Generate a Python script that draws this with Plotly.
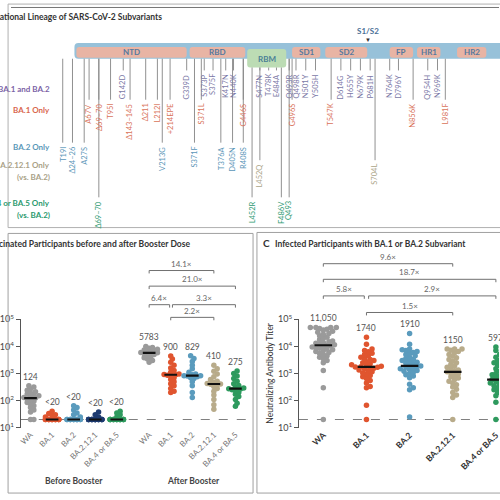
import numpy as np
import plotly.graph_objects as go

# ---------------- data ----------------
row_names = ["BA.1 and BA.2", "BA.1 Only", "BA.2 Only", "BA.2.12.1 Only", "BA.4 or BA.5 Only"]
row_subs = ["", "", "", "(vs. BA.2)", "(vs. BA.2)"]
domain_names = ["NTD", "RBD", "RBM", "SD1", "SD2", "FP", "HR1", "HR2"]

mut_shared = ["G142D", "G339D", "S373P", "S375F", "K417N", "N440K", "S477N", "T478K", "E484A",
              "Q493R", "Q498R", "N501Y", "Y505H", "D614G", "H655Y", "N679K", "P681H", "N764K",
              "D796Y", "Q954H", "N969K"]
mut_ba1 = ["A67V", "Δ69–70", "T95I", "Δ143–145", "Δ211", "L212I", "+214EPE", "S371L", "G446S",
           "G496S", "T547K", "N856K", "L981F"]
mut_ba2 = ["T19I", "Δ24–26", "A27S", "V213G", "S371F", "T376A", "D405N", "R408S"]
mut_ba2121 = ["L452Q", "S704L"]
mut_ba45 = ["Δ69–70", "L452R", "F486V", "Q493"]

variants = ["WA", "BA.1", "BA.2", "BA.2.12.1", "BA.4 or BA.5"]

# Panel B: vaccinated, before / after booster
b_before = [
    [20, 20, 38, 45, 55, 65, 75, 85, 95, 105, 115, 124, 130, 140, 150, 160, 175, 190, 210, 240, 270, 320, 350],
    [20] * 14 + [25, 28, 30, 33, 40],
    [20] * 13 + [25, 30, 35, 45, 55, 65],
    [20] * 16 + [25, 30, 38],
    [20] * 15 + [25, 30, 35, 40],
]
b_after = [
    [2600, 3000, 3400, 3800, 4200, 4600, 5000, 5300, 5600, 5783, 6000, 6300, 6600, 7000, 7400, 7900, 8500, 9200, 10000],
    [200, 220, 280, 350, 420, 500, 600, 700, 800, 870, 900, 920, 950, 1000, 1100, 1300, 1600, 2000, 2600, 3400, 4400],
    [130, 200, 350, 500, 650, 700, 760, 800, 820, 829, 850, 900, 950, 1100, 1500, 2000, 2800, 3600, 4500],
    [48, 70, 110, 160, 220, 280, 330, 380, 400, 410, 430, 470, 520, 600, 750, 950, 1200, 1500, 2000],
    [62, 80, 110, 140, 170, 200, 230, 250, 265, 275, 290, 320, 360, 420, 520, 650, 800, 1000, 1240],
]
b_gmt_before = [124, 20, 20, 20, 20]
b_gmt_after = [5783, 900, 829, 410, 275]
b_lab_before = ["124", "<20", "<20", "<20", "<20"]
b_lab_after = ["5783", "900", "829", "410", "275"]
b_folds = ["14.1×", "21.0×", "6.4×", "3.3×", "2.2×"]

# Panel C: infected with BA.1 or BA.2
c_vals = [
    [20, 300, 1300, 2500, 3000, 3500, 4000, 4500, 5000, 5500, 6000, 6500, 7000, 7500, 8000, 8500, 9000,
     9500, 10000, 10500, 11050, 11500, 12000, 13000, 14000, 15000, 16000, 18000, 20000, 22000, 25000,
     28000, 30000, 33000, 36000, 40000, 43000, 46000, 50000, 50000, 50000, 50000],
    [20, 67, 300, 330, 450, 550, 650, 750, 850, 950, 1050, 1150, 1250, 1350, 1450, 1550, 1650, 1700, 1740,
     1780, 1850, 1950, 2100, 2300, 2500, 2700, 3000, 3300, 3600, 4000, 4500, 5000, 5600, 6300, 7000, 8000,
     12000, 22000],
    [25, 250, 300, 400, 700, 800, 900, 1000, 1100, 1200, 1300, 1400, 1500, 1600, 1700, 1800, 1900, 2000,
     2200, 2400, 2600, 2800, 3000, 3300, 3600, 4000, 4500, 5000, 5500, 6000, 6500, 7000, 7500, 8000,
     12000, 30000],
    [20, 130, 160, 200, 260, 320, 380, 450, 520, 600, 680, 760, 850, 950, 1050, 1150, 1250, 1350, 1500,
     1700, 1900, 2200, 2500, 2900, 3300, 3800, 4400, 5000, 5800, 6500, 7200, 8000, 8000, 8000],
    [20, 87, 150, 200, 250, 300, 350, 400, 450, 500, 550, 600, 650, 700, 800, 900, 1000, 1200, 1500,
     2000, 2500, 3000, 4000, 5000, 7000, 9600],
]
c_gmt = [11050, 1740, 1910, 1150, 597]
c_lab = ["11,050", "1740", "1910", "1150", "597"]
c_folds = ["9.6×", "18.7×", "5.8×", "2.9×", "1.5×"]

# ---------------- layout helpers ----------------
W = H = 500
FONT = "Lato"
def X(px): return px / W
def Y(py): return 1 - py / H

row_colors = ["#7b62a6", "#d9664d", "#5a98b8", "#a9a187", "#2b9a6e"]
mut_text_colors = ["#7a78a6", "#d9735a", "#5b96b8", "#aaa488", "#2e9a72"]
var_colors = ["#9a9a9a", "#e0552f", "#5a9bbd", "#b8ab8a", "#2e9a5e"]
before_colors = ["#9a9a9a", "#e0552f", "#5a9bbd", "#1d3a70", "#2e9a5e"]

shapes = []
ann = []

def line_px(x0, y0, x1, y1, color="#8a8a8a", w=1, dash=None):
    d = dict(type="line", xref="paper", yref="paper", x0=X(x0), y0=Y(y0), x1=X(x1), y1=Y(y1),
             line=dict(color=color, width=w))
    if dash:
        d["line"]["dash"] = dash
    shapes.append(d)

def rrect(x0, y0, x1, y1, fill, r=2.5, line=None):
    a0, b0, a1, b1 = X(x0), Y(y0), X(x1), Y(y1)
    rx, ry = r / W, r / H
    p = (f"M{a0+rx},{b0} L{a1-rx},{b0} Q{a1},{b0} {a1},{b0-ry} L{a1},{b1+ry} Q{a1},{b1} {a1-rx},{b1} "
         f"L{a0+rx},{b1} Q{a0},{b1} {a0},{b1+ry} L{a0},{b0-ry} Q{a0},{b0} {a0+rx},{b0} Z")
    shapes.append(dict(type="path", xref="paper", yref="paper", path=p, fillcolor=fill,
                       line=dict(width=0 if line is None else 1, color=line or fill)))

def text_px(x, y, t, size=8, color="#333", xa="center", ya="middle", angle=0, bold=False):
    if bold:
        t = "<b>" + t + "</b>"
    ann.append(dict(x=X(x), y=Y(y), xref="paper", yref="paper", text=t, showarrow=False,
                    xanchor=xa, yanchor=ya, textangle=angle,
                    font=dict(family=FONT, size=size, color=color)))

# ---------------- panel frames ----------------
line_px(0, 0.5, 500, 0.5, "#777")
shapes.append(dict(type="rect", xref="paper", yref="paper", x0=X(-3), x1=X(503), y0=Y(226), y1=Y(-3),
                   line=dict(color="#b0b0b0", width=1)))
shapes.append(dict(type="rect", xref="paper", yref="paper", x0=X(-3), x1=X(248), y0=Y(498), y1=Y(232),
                   line=dict(color="#a0a0a0", width=1)))
shapes.append(dict(type="rect", xref="paper", yref="paper", x0=X(252), x1=X(503), y0=Y(498), y1=Y(231),
                   line=dict(color="#a0a0a0", width=1)))

# ---------------- panel A ----------------
text_px(157, 10, "A  Mutational Lineage of SARS-CoV-2 Subvariants", 8.5, "#333", xa="right", bold=True)

rrect(65, 37, 506, 53, "#97c1d9", r=4)
dom_px = [(67, 180), (183, 240), (242, 282), (288, 317), (322, 365), (388, 412), (416, 440), (457, 487)]
for name, (a, b) in zip(domain_names, dom_px):
    if name == "RBM":
        rrect(a, 43, b, 62, "#bcdcb4", r=3)
        text_px((a + b) / 2, 53, name, 8, "#4a7f96", bold=True)
    else:
        rrect(a, 41, b, 52, "#e8b4a4", r=3)
        text_px((a + b) / 2, 46.5, name, 8, "#56789e", bold=True)
text_px(366, 25, "S1/S2", 8, "#4a6f96", bold=True)
text_px(366, 33, "▼", 6, "#333")

row_y = [84, 106, 143, 162, 201]
for i, (nm, sub) in enumerate(zip(row_names, row_subs)):
    text_px(42, row_y[i], nm, 8, row_colors[i], xa="right", bold=True)
    if sub:
        text_px(42, row_y[i] + 12, sub, 8, row_colors[i], xa="right", bold=True)

pos_shared = [115, 180, 198, 207, 220, 228, 255, 264, 272, 285, 292, 302, 312, 338, 348, 358, 368, 388, 397, 427, 437]
pos_ba1 = [80, 90, 102, 122, 138, 150, 163, 195, 238, 288, 328, 412, 445]
pos_ba2 = [53, 63, 75, 155, 188, 215, 227, 238]
pos_ba2121 = [255, 373]
pos_ba45 = [90, 247, 277, 285]
row_top = [67, 97, 141, 159, 197]

for r, (names, poss) in enumerate(zip([mut_shared, mut_ba1, mut_ba2, mut_ba2121, mut_ba45],
                                      [pos_shared, pos_ba1, pos_ba2, pos_ba2121, pos_ba45])):
    for nm, px in zip(names, poss):
        ybar = 62 if 242 <= px <= 282 else 53
        line_px(px, ybar, px, row_top[r] - 2, "#858585", 0.9)
        text_px(px, row_top[r], nm, 7.5, mut_text_colors[r], ya="top", angle=-90)

# ---------------- panel B & C ----------------
text_px(185, 243, "B  Vaccinated Participants before and after Booster Dose", 8.5, "#333", xa="right", bold=True)
text_px(256, 242, "C", 10, "#333", xa="left", bold=True)
text_px(268, 243, "Infected Participants with BA.1 or BA.2 Subvariant", 8.5, "#333", xa="left", bold=True)

B_X0, B_X1, C_X0 = 10, 245, 295
Y_TOP, Y_BOT = 320, 431
PPD = (Y_BOT - Y_TOP) / 4.0
B_PPU = 22.1
C_PPU = 44.2
b_range = [-(20 - B_X0) / B_PPU, (B_X1 - 20) / B_PPU]
c_range = [-(320 - C_X0) / C_PPU, (500 - 320) / C_PPU]

def swarm(vals, ppu, d, maxw):
    ys = np.log10(np.array(vals, float)) * PPD
    order = np.argsort(ys)
    placed = []
    xs = np.zeros(len(vals))
    for i in order:
        y = ys[i]
        best, bestc = 0.0, 1e9
        for k in range(0, 60):
            off = ((k + 1) // 2) * (1 if k % 2 else -1) * d * 0.5
            if abs(off) > maxw:
                break
            c = sum(1 for px, py in placed if (off - px) ** 2 + (y - py) ** 2 < d ** 2)
            if c == 0:
                best, bestc = off, 0
                break
            if c < bestc:
                best, bestc = off, c
        placed.append((best, y))
        xs[i] = best / ppu
    return xs

fig = go.Figure()
b_pos = [0, 1, 2, 3, 4, 5.5, 6.5, 7.5, 8.5, 9.5]
b_groups = b_before + b_after
b_cols = before_colors + var_colors
b_gmts = b_gmt_before + b_gmt_after
b_labs = b_lab_before + b_lab_after

fig.add_trace(go.Scatter(x=b_range, y=[20, 20], mode="lines", xaxis="x", yaxis="y",
                         line=dict(color="#808080", width=1, dash="dash"), hoverinfo="skip", showlegend=False))
fig.add_trace(go.Scatter(x=c_range, y=[20, 20], mode="lines", xaxis="x2", yaxis="y2",
                         line=dict(color="#808080", width=1, dash="dash"), hoverinfo="skip", showlegend=False))

for p, vals, col, g, lab in zip(b_pos, b_groups, b_cols, b_gmts, b_labs):
    off = swarm(vals, B_PPU, 3.4, 9.5)
    fig.add_trace(go.Scatter(x=p + off, y=vals, mode="markers", xaxis="x", yaxis="y",
                             marker=dict(size=5.5, color=col, line=dict(width=0)), showlegend=False))
    hw = 6.5 / B_PPU
    fig.add_trace(go.Scatter(x=[p - hw, p + hw], y=[g, g], mode="lines", xaxis="x", yaxis="y",
                             line=dict(color="#111", width=2.2), showlegend=False))
    ann.append(dict(x=p, y=np.log10(max(vals)), xref="x", yref="y", text=lab, showarrow=False,
                    yanchor="bottom", yshift=2, font=dict(family=FONT, size=8.5, color="#555")))

for i, (vals, col, g, lab) in enumerate(zip(c_vals, var_colors, c_gmt, c_lab)):
    off = swarm(vals, C_PPU, 3.8, 17)
    fig.add_trace(go.Scatter(x=i + off, y=vals, mode="markers", xaxis="x2", yaxis="y2",
                             marker=dict(size=5.5, color=col, line=dict(width=0)), showlegend=False))
    hw = 9 / C_PPU
    fig.add_trace(go.Scatter(x=[i - hw, i + hw], y=[g, g], mode="lines", xaxis="x2", yaxis="y2",
                             line=dict(color="#111", width=2.2), showlegend=False))
    ann.append(dict(x=i, y=np.log10(max(vals)), xref="x2", yref="y2", text=lab, showarrow=False,
                    yanchor="bottom", yshift=2, font=dict(family=FONT, size=8.5, color="#555")))

def bracket(xref, a, b, ypx, label, inset_a=0.0, inset_b=0.0):
    col = "#707070"
    y = Y(ypx)
    yt = Y(ypx + 3)
    a2, b2 = a + inset_a, b - inset_b
    shapes.append(dict(type="line", xref=xref, yref="paper", x0=a2, x1=b2, y0=y, y1=y, line=dict(color=col, width=1)))
    shapes.append(dict(type="line", xref=xref, yref="paper", x0=a2, x1=a2, y0=y, y1=yt, line=dict(color=col, width=1)))
    shapes.append(dict(type="line", xref=xref, yref="paper", x0=b2, x1=b2, y0=y, y1=yt, line=dict(color=col, width=1)))
    ann.append(dict(x=(a2 + b2) / 2, y=Y(ypx - 7), xref=xref, yref="paper", text=label, showarrow=False,
                    font=dict(family=FONT, size=8, color="#666")))

b_br = [(5.5, 8.5, 270), (5.5, 9.5, 286), (5.5, 6.5, 305), (6.5, 9.5, 305), (6.5, 8.5, 318)]
for (a, b, yp), lab in zip(b_br, b_folds):
    ia = 0.08 if (a == 6.5 and yp == 305) else 0
    ib = 0.05 if (b == 6.5) else 0
    bracket("x", a, b, yp, lab, ia, ib)
c_br = [(0, 3, 263), (0, 4, 279), (0, 1, 296), (1, 4, 296), (1, 3, 313)]
for (a, b, yp), lab in zip(c_br, c_folds):
    ia = 0.05 if (a == 1 and yp == 296) else 0
    ib = 0.05 if (b == 1) else 0
    bracket("x2", a, b, yp, lab, ia, ib)

text_px(65, 486, "Before Booster", 8.5, "#444", bold=True)
text_px(187, 486, "After Booster", 8.5, "#444", bold=True)
text_px(265, 375, "Neutralizing Antibody Titer", 8.5, "#333", angle=-90)

ytick_vals = [10, 100, 1000, 10000, 100000]
ytick_text = ["10<sup>1</sup>", "10<sup>2</sup>", "10<sup>3</sup>", "10<sup>4</sup>", "10<sup>5</sup>"]
yax = dict(type="log", range=[1, 5], tickvals=ytick_vals, ticktext=ytick_text, showgrid=False,
           zeroline=False, showline=True, linecolor="#555", linewidth=1, ticks="outside", ticklen=4,
           tickcolor="#555", tickfont=dict(family=FONT, size=9, color="#444"),
           domain=[Y(Y_BOT), Y(Y_TOP)])

fig.update_layout(
    width=W, height=H, margin=dict(l=0, r=0, t=0, b=0),
    paper_bgcolor="white", plot_bgcolor="rgba(0,0,0,0)",
    font=dict(family=FONT),
    xaxis=dict(domain=[X(B_X0), X(B_X1)], range=b_range, tickvals=b_pos, ticktext=variants + variants,
               tickangle=-45, showgrid=False, zeroline=False, showline=False, ticks="",
               tickfont=dict(family=FONT, size=8, color="#777"), anchor="y", ticklabeloverflow="allow"),
    yaxis=dict(**yax, anchor="x"),
    xaxis2=dict(domain=[X(C_X0), 1], range=c_range, tickvals=list(range(5)), ticktext=["<b>" + v + "</b>" for v in variants],
                tickangle=-45, showgrid=False, zeroline=False, showline=False, ticks="",
                tickfont=dict(family=FONT, size=8.5, color="#333"), anchor="y2", ticklabeloverflow="allow"),
    yaxis2=dict(**yax, anchor="x2"),
    shapes=shapes, annotations=ann, showlegend=False,
)

fig.write_html("out.html", config={"displayModeBar": False},
               post_script="document.body.style.margin='0';document.body.style.overflow='hidden';")
